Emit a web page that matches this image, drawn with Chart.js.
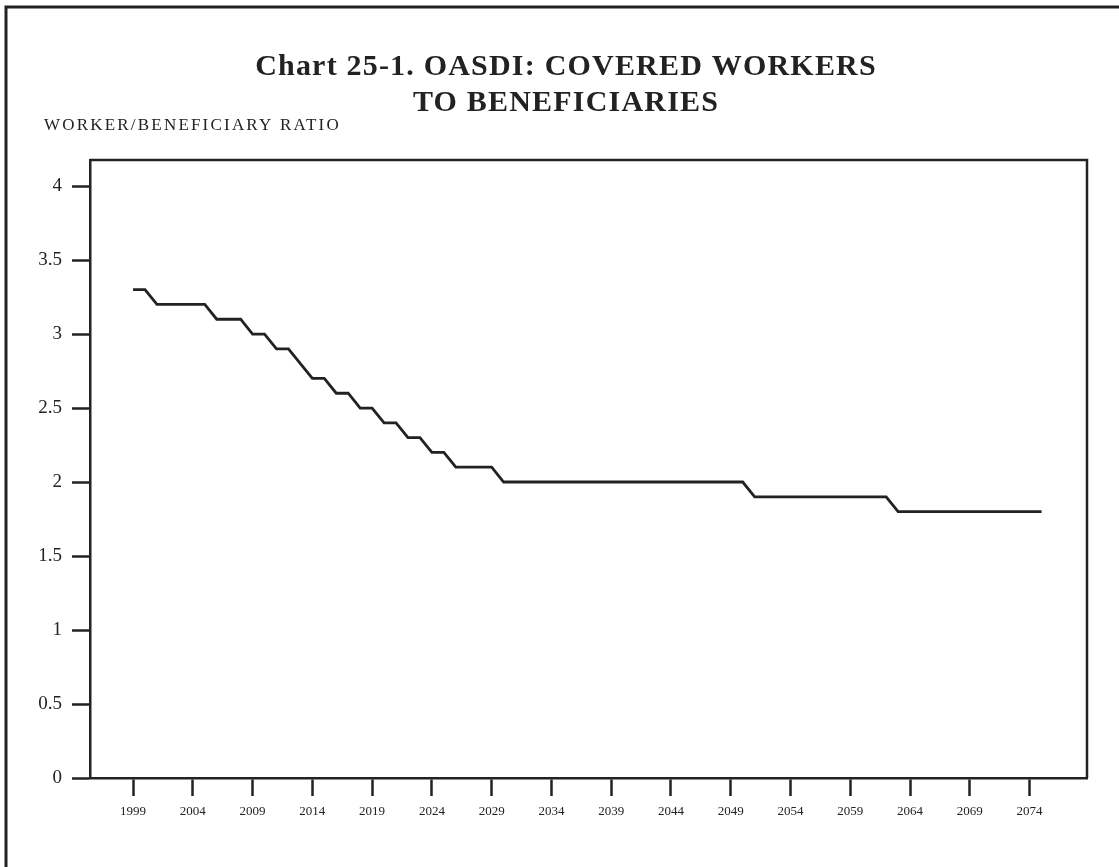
<!DOCTYPE html>
<html>
<head>
<meta charset="utf-8">
<script src="https://cdn.jsdelivr.net/npm/chart.js@4"></script>
<style>
  html, body { margin: 0; padding: 0; background: #ffffff; }
  #wrap { width: 1119px; height: 867px; }
</style>
</head>
<body>
<div id="wrap"><canvas id="chartCanvas" width="1119" height="867"></canvas></div>
<script>
// Chart data
const years = [
  1999, 2000, 2001, 2002, 2003, 2004, 2005, 2006, 2007, 2008,
  2009, 2010, 2011, 2012, 2013, 2014, 2015, 2016, 2017, 2018,
  2019, 2020, 2021, 2022, 2023, 2024, 2025, 2026, 2027, 2028,
  2029, 2030, 2031, 2032, 2033, 2034, 2035, 2036, 2037, 2038,
  2039, 2040, 2041, 2042, 2043, 2044, 2045, 2046, 2047, 2048,
  2049, 2050, 2051, 2052, 2053, 2054, 2055, 2056, 2057, 2058,
  2059, 2060, 2061, 2062, 2063, 2064, 2065, 2066, 2067, 2068,
  2069, 2070, 2071, 2072, 2073, 2074, 2075
];
const ratios = [
  3.3, 3.3, 3.2, 3.2, 3.2, 3.2, 3.2, 3.1, 3.1, 3.1,
  3.0, 3.0, 2.9, 2.9, 2.8, 2.7, 2.7, 2.6, 2.6, 2.5,
  2.5, 2.4, 2.4, 2.3, 2.3, 2.2, 2.2, 2.1, 2.1, 2.1,
  2.1, 2.0, 2.0, 2.0, 2.0, 2.0, 2.0, 2.0, 2.0, 2.0,
  2.0, 2.0, 2.0, 2.0, 2.0, 2.0, 2.0, 2.0, 2.0, 2.0,
  2.0, 2.0, 1.9, 1.9, 1.9, 1.9, 1.9, 1.9, 1.9, 1.9,
  1.9, 1.9, 1.9, 1.9, 1.8, 1.8, 1.8, 1.8, 1.8, 1.8,
  1.8, 1.8, 1.8, 1.8, 1.8, 1.8, 1.8
];
const xTickYears = [1999, 2004, 2009, 2014, 2019, 2024, 2029, 2034, 2039, 2044, 2049, 2054, 2059, 2064, 2069, 2074];
const yTickValues = [0, 0.5, 1, 1.5, 2, 2.5, 3, 3.5, 4];

const titleLines = ['Chart 25-1. OASDI: COVERED WORKERS', 'TO BENEFICIARIES'];
const yAxisTitle = 'WORKER/BENEFICIARY RATIO';

const ink = '#222222';
const serif = '"Liberation Serif", "Times New Roman", serif';

// outer frame, heading text and closing the plot box
const decorPlugin = {
  id: 'decor',
  afterDraw(chart) {
    const ctx = chart.ctx;
    const area = chart.chartArea;
    ctx.save();
    ctx.strokeStyle = ink;
    ctx.lineWidth = 3;
    ctx.beginPath();
    ctx.moveTo(6, 867);
    ctx.lineTo(6, 7);
    ctx.lineTo(1119, 7);
    ctx.stroke();

    ctx.lineWidth = 2.5;
    ctx.beginPath();
    ctx.moveTo(area.left, area.top);
    ctx.lineTo(area.right, area.top);
    ctx.lineTo(area.right, area.bottom);
    ctx.stroke();

    ctx.fillStyle = ink;
    ctx.textAlign = 'center';
    ctx.textBaseline = 'middle';
    ctx.font = 'bold 30px ' + serif;
    ctx.letterSpacing = '1.2px';
    ctx.fillText(titleLines[0], 566, 67);
    ctx.fillText(titleLines[1], 566, 103);

    ctx.textAlign = 'left';
    ctx.font = '17px ' + serif;
    ctx.letterSpacing = '2.2px';
    ctx.fillText(yAxisTitle, 44, 126);
    ctx.restore();
  }
};

const ctx = document.getElementById('chartCanvas').getContext('2d');
new Chart(ctx, {
  type: 'line',
  data: {
    datasets: [{
      data: years.map((yr, i) => ({ x: yr, y: ratios[i] })),
      borderColor: ink,
      borderWidth: 2.8,
      pointRadius: 0,
      tension: 0,
      fill: false
    }]
  },
  options: {
    responsive: false,
    animation: false,
    layout: { padding: { top: 160, right: 32, bottom: 0, left: 0 } },
    plugins: { legend: { display: false }, tooltip: { enabled: false }, title: { display: false } },
    scales: {
      x: {
        type: 'linear',
        min: 1995.4,
        max: 2078.8,
        afterBuildTicks: (scale) => { scale.ticks = xTickYears.map(v => ({ value: v })); },
        afterFit: (scale) => { scale.height = 89; },
        border: { display: true, color: ink, width: 2.5 },
        grid: { drawOnChartArea: false, drawTicks: true, tickLength: 18, tickWidth: 2.5, tickColor: ink },
        ticks: {
          color: ink,
          font: { family: serif, size: 13 },
          padding: 8,
          maxRotation: 0,
          autoSkip: false,
          callback: (v) => String(v)
        }
      },
      y: {
        min: 0,
        max: 4.176,
        afterBuildTicks: (scale) => { scale.ticks = yTickValues.map(v => ({ value: v })); },
        afterFit: (scale) => { scale.width = 90; },
        border: { display: true, color: ink, width: 2.5 },
        grid: { drawOnChartArea: false, drawTicks: true, tickLength: 18, tickWidth: 2.5, tickColor: ink },
        ticks: {
          color: ink,
          font: { family: serif, size: 19 },
          padding: 10,
          autoSkip: false,
          callback: (v) => String(v)
        }
      }
    }
  },
  plugins: [decorPlugin]
});
</script>
</body>
</html>
